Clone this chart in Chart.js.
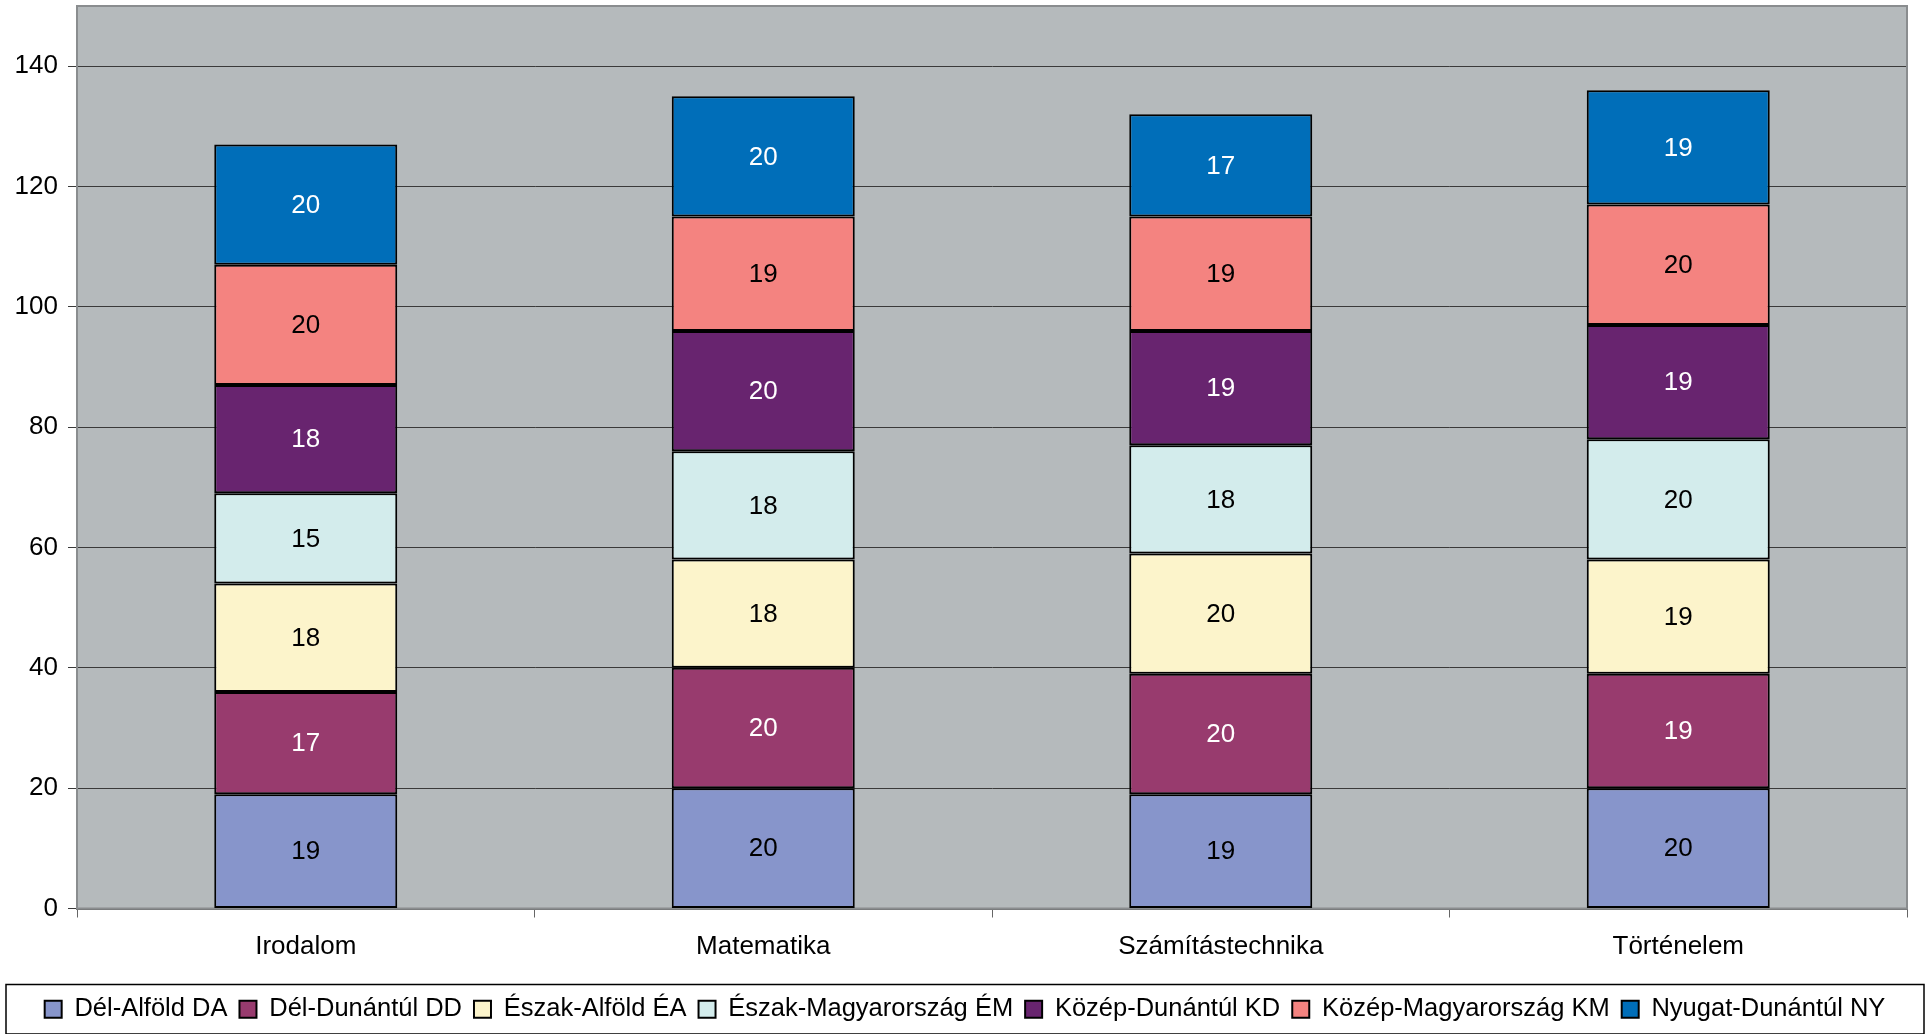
<!DOCTYPE html>
<html>
<head>
<meta charset="utf-8">
<script src="https://cdn.jsdelivr.net/npm/chart.js@4/dist/chart.umd.min.js"></script>
<style>
  html, body { margin: 0; padding: 0; background: #fff; }
  #wrap { width: 1930px; height: 1034px; position: relative; }
</style>
</head>
<body>
<div id="wrap"><canvas id="chart"></canvas></div>
<script>
const subjects = ['Irodalom', 'Matematika', 'Számítástechnika', 'Történelem'];
const regions = [
  'Dél-Alföld DA', 'Dél-Dunántúl DD', 'Észak-Alföld ÉA', 'Észak-Magyarország ÉM',
  'Közép-Dunántúl KD', 'Közép-Magyarország KM', 'Nyugat-Dunántúl NY'
];
const delAlfold = [19, 20, 19, 20];
const delDunantul = [17, 20, 20, 19];
const eszakAlfold = [18, 18, 20, 19];
const eszakMagyarorszag = [15, 18, 18, 20];
const kozepDunantul = [18, 20, 19, 19];
const kozepMagyarorszag = [20, 19, 19, 20];
const nyugatDunantul = [20, 20, 17, 19];
const yTickValues = [0, 20, 40, 60, 80, 100, 120, 140];

const seriesValues = [delAlfold, delDunantul, eszakAlfold, eszakMagyarorszag, kozepDunantul, kozepMagyarorszag, nyugatDunantul];
const fillColors = ['#8795CB', '#983B6E', '#FCF4CB', '#D3ECEC', '#68246F', '#F48380', '#006EB9'];
const labelColors = ['#000', '#fff', '#000', '#000', '#fff', '#000', '#fff'];

const FONT = '"Liberation Sans", Arial, sans-serif';

// plot background + frame, legend frame
const plotFrame = {
  id: 'plotFrame',
  beforeDraw(chart) {
    const { ctx, chartArea: a } = chart;
    ctx.save();
    ctx.fillStyle = '#B5BABC';
    ctx.fillRect(a.left, a.top, a.right - a.left, a.bottom - a.top);
    ctx.restore();
  },
  beforeDatasetsDraw(chart) {
    const { ctx, chartArea: a } = chart;
    ctx.save();
    ctx.strokeStyle = '#8a8d8f';
    ctx.lineWidth = 2;
    ctx.strokeRect(a.left, a.top, a.right - a.left, a.bottom - a.top);
    ctx.restore();
  },
  afterDraw(chart) {
    const boxes = chart.legend.legendHitBoxes;
    if (!boxes || !boxes.length) return;
    const ctx = chart.ctx;
    const top = Math.min(...boxes.map(b => b.top));
    const bottom = Math.max(...boxes.map(b => b.top + b.height));
    ctx.save();
    ctx.strokeStyle = '#000';
    ctx.lineWidth = 1.5;
    ctx.strokeRect(6, top - 12, chart.width - 12, bottom - top + 24);
    ctx.restore();
  }
};

// value labels in the middle of each segment
const barLabels = {
  id: 'barLabels',
  afterDatasetsDraw(chart) {
    const ctx = chart.ctx;
    ctx.save();
    ctx.font = '26px ' + FONT;
    ctx.textAlign = 'center';
    ctx.textBaseline = 'middle';
    chart.data.datasets.forEach((ds, i) => {
      chart.getDatasetMeta(i).data.forEach((bar, j) => {
        const { x, y, base } = bar.getProps(['x', 'y', 'base'], true);
        ctx.fillStyle = labelColors[i];
        ctx.fillText(String(ds.data[j]), x, (y + base) / 2 + 1);
      });
    });
    ctx.restore();
  }
};

new Chart(document.getElementById('chart'), {
  type: 'bar',
  data: {
    labels: subjects,
    datasets: regions.map((name, i) => ({
      label: name,
      data: seriesValues[i],
      backgroundColor: fillColors[i],
      borderColor: '#000',
      borderWidth: 2,
      borderSkipped: false,
      barPercentage: 0.4,
      categoryPercentage: 1
    }))
  },
  options: {
    responsive: true,
    maintainAspectRatio: false,
    animation: false,
    layout: { padding: { left: 0, right: 0, top: 6, bottom: 2 } },
    plugins: {
      tooltip: { enabled: false },
      legend: {
        position: 'bottom',
        labels: {
          color: '#000',
          font: { family: FONT, size: 25.5 },
          boxWidth: 17,
          boxHeight: 17,
          padding: 12
        }
      }
    },
    scales: {
      x: {
        stacked: true,
        afterFit(scale) { scale.height = 76; },
        grid: { offset: true, drawOnChartArea: false, drawTicks: true, tickLength: 9, color: '#666' },
        border: { display: true, color: '#6b6b6b', width: 2 },
        ticks: { color: '#000', font: { family: FONT, size: 26 }, padding: 14 }
      },
      y: {
        stacked: true,
        min: 0,
        max: 150,
        afterFit(scale) {
          scale.width = 77;
          scale.paddingTop = 0;
          scale.paddingBottom = 0;
        },
        afterBuildTicks(scale) { scale.ticks = yTickValues.map(v => ({ value: v })); },
        grid: { color: '#3a3a3a', lineWidth: 1, tickLength: 9, drawTicks: true },
        border: { display: true, color: '#808080', width: 2 },
        ticks: { color: '#000', font: { family: FONT, size: 26 }, padding: 10 }
      },
      // empty right-hand margin only
      yRight: {
        position: 'right',
        min: 0,
        max: 150,
        afterFit(scale) {
          scale.width = 23;
          scale.paddingTop = 0;
          scale.paddingBottom = 0;
        },
        grid: { display: false },
        border: { display: false },
        ticks: { display: false }
      }
    }
  },
  plugins: [plotFrame, barLabels]
});
</script>
</body>
</html>
